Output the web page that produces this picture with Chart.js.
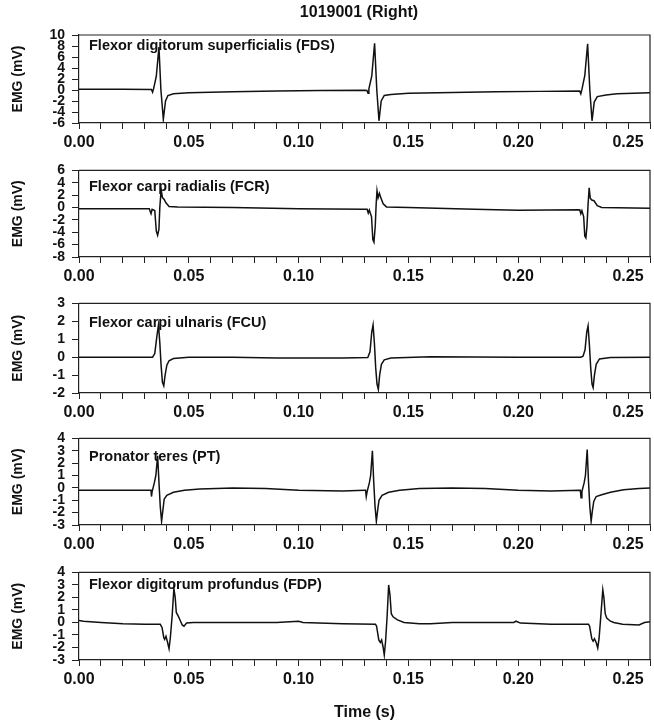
<!DOCTYPE html>
<html>
<head>
<meta charset="utf-8">
<title>1019001 (Right)</title>
<script src="https://cdn.jsdelivr.net/npm/chart.js@4.4.1/dist/chart.umd.min.js"></script>
<style>
  body { margin: 0; background: #fff; }
  #wrap { position: relative; width: 654px; height: 722px; overflow: hidden; }
  #wrap canvas { position: absolute; left: 0; }
</style>
</head>
<body>
<div id="wrap">
  <canvas id="fds"></canvas>
  <canvas id="fcr"></canvas>
  <canvas id="fcu"></canvas>
  <canvas id="pt"></canvas>
  <canvas id="fdp"></canvas>
</div>
<script>
const figTitle = "1019001 (Right)";
const muscleNames = [
  "Flexor digitorum superficialis (FDS)",
  "Flexor carpi radialis (FCR)",
  "Flexor carpi ulnaris (FCU)",
  "Pronator teres (PT)",
  "Flexor digitorum profundus (FDP)"
];
const xTickLabels = ["0.00", "0.05", "0.10", "0.15", "0.20", "0.25"];

// traces: time (s) and EMG (mV)
const fdsT = [0, 0.02, 0.033, 0.0335, 0.034, 0.0352, 0.0364, 0.0373, 0.0384, 0.0394, 0.0405, 0.043, 0.05, 0.07, 0.09, 0.11, 0.13,
  0.1311, 0.1316, 0.132, 0.1333, 0.1346, 0.1356, 0.1366, 0.1376, 0.139, 0.142, 0.15, 0.17, 0.19, 0.21, 0.228,
  0.2285, 0.229, 0.2303, 0.2316, 0.2326, 0.2336, 0.2346, 0.236, 0.24, 0.245, 0.26];
const fdsV = [0.15, 0.12, 0.1, -0.4, 0.3, 2.5, 7.8, 0, -5.3, -2.0, -1.0, -0.7, -0.5, -0.3, -0.2, -0.1, -0.05,
  -0.1, -0.6, 0.2, 2.5, 8.5, 0, -5.6, -2.0, -1.0, -0.8, -0.6, -0.45, -0.3, -0.25, -0.2,
  -0.7, 0.1, 2.6, 8.4, 0, -5.6, -2.2, -1.2, -0.9, -0.7, -0.5];

const fcrT = [0, 0.032, 0.0328, 0.0333, 0.0345, 0.0352, 0.0358, 0.0364, 0.0368, 0.0374, 0.038, 0.0388, 0.0395, 0.041, 0.045, 0.07, 0.1, 0.13,
  0.1312, 0.1317, 0.1322, 0.1332, 0.1338, 0.1343, 0.1349, 0.1353, 0.1357, 0.1362, 0.1368, 0.1374, 0.1385, 0.14, 0.15, 0.18, 0.2, 0.228,
  0.2285, 0.229, 0.2298, 0.2303, 0.2308, 0.2313, 0.2318, 0.2323, 0.2328, 0.2335, 0.2345, 0.236, 0.238, 0.26];
const fcrV = [-0.2, -0.2, -1.0, -0.3, -0.5, -3.8, -4.5, -3.5, 0, 2.9, 1.6, 1.3, 0.8, 0.15, 0.1, 0.0, -0.2, -0.3,
  -0.3, -0.9, -0.4, -1.5, -5.2, -5.6, -3.0, 0.5, 2.7, 1.6, 2.3, 1.6, 0.6, 0.1, 0.0, -0.3, -0.45, -0.35,
  -1.0, -0.5, -1.5, -4.6, -4.9, -3.0, 0.5, 3.2, 1.5, 1.2, 1.1, 0.3, 0.0, -0.1];

const fcuT = [0, 0.0335, 0.0345, 0.0355, 0.0362, 0.0368, 0.0374, 0.038, 0.0386, 0.0392, 0.04, 0.041, 0.043, 0.05, 0.07, 0.09, 0.12,
  0.1315, 0.1325, 0.1333, 0.1339, 0.1345, 0.1351, 0.1357, 0.1363, 0.1369, 0.1377, 0.139, 0.142, 0.16, 0.2, 0.2285,
  0.2295, 0.2304, 0.2312, 0.2318, 0.2324, 0.233, 0.2336, 0.2341, 0.2347, 0.2355, 0.237, 0.242, 0.26];
const fcuV = [0, 0, 0.2, 1.2, 1.8, 0.8, -0.5, -1.4, -1.6, -1.0, -0.45, -0.2, -0.08, 0, 0, -0.05, -0.05,
  -0.02, 0.3, 1.4, 1.8, 0.8, -0.6, -1.5, -1.8, -1.0, -0.4, -0.15, -0.05, 0.02, 0, 0,
  0.05, 0.4, 1.4, 1.75, 0.7, -0.6, -1.5, -1.7, -1.0, -0.4, -0.1, -0.02, 0];

const ptT = [0, 0.0328, 0.033, 0.0333, 0.0343, 0.035, 0.0358, 0.0364, 0.037, 0.0376, 0.0382, 0.0388, 0.04, 0.043, 0.048, 0.055, 0.07, 0.085, 0.1, 0.12, 0.13,
  0.1305, 0.1308, 0.1312, 0.1322, 0.1328, 0.1336, 0.1342, 0.1348, 0.1354, 0.136, 0.1366, 0.138, 0.141, 0.146, 0.155, 0.17, 0.185, 0.2, 0.215, 0.228,
  0.2283, 0.2286, 0.229, 0.23, 0.2306, 0.2314, 0.232, 0.2326, 0.2332, 0.2338, 0.2344, 0.2355, 0.238, 0.242, 0.248, 0.255, 0.26];
const ptV = [-0.2, -0.2, -0.7, -0.3, 0.4, 1.0, 2.6, 0.5, -1.5, -2.7, -1.8, -0.9, -0.6, -0.35, -0.2, -0.1, 0.0, -0.05, -0.2, -0.25, -0.2,
  -0.2, -0.7, -0.3, 0.4, 1.0, 3.0, 0.5, -1.5, -2.7, -1.8, -1.0, -0.6, -0.35, -0.2, -0.05, 0.0, -0.05, -0.2, -0.25, -0.2,
  -0.2, -0.8, -0.3, 0.4, 1.0, 3.1, 0.5, -1.5, -2.7, -1.8, -1.1, -0.7, -0.55, -0.35, -0.15, -0.05, 0];

const fdpT = [0, 0.002, 0.01, 0.02, 0.03, 0.037, 0.0378, 0.0386, 0.039, 0.0396, 0.0402, 0.041, 0.0416, 0.0424, 0.0432, 0.0438, 0.0443, 0.0452, 0.046, 0.047, 0.0478, 0.049, 0.052, 0.07, 0.09, 0.1, 0.102, 0.12, 0.135,
  0.1355, 0.1365, 0.1372, 0.1378, 0.1385, 0.139, 0.1396, 0.1403, 0.141, 0.1416, 0.1422, 0.143, 0.145, 0.148, 0.155, 0.16, 0.17, 0.198, 0.199, 0.201, 0.215, 0.232,
  0.2325, 0.2335, 0.2341, 0.2347, 0.2355, 0.2362, 0.2368, 0.2376, 0.2385, 0.239, 0.2396, 0.2403, 0.242, 0.2435, 0.2475, 0.255, 0.2575, 0.26];
const fdpV = [0.15, 0.1, 0.0, -0.1, -0.15, -0.15, -0.4, -1.2, -1.35, -1.1, -1.5, -2.1, -1.2, 0.5, 2.7, 2.0, 0.8, 0.5, 0.2, -0.2, -0.3, -0.05, 0.0, 0.0, 0.0, 0.1, 0.0, -0.1, -0.15,
  -0.3, -1.4, -1.6, -1.4, -2.0, -2.6, -1.5, 0.5, 3.0, 2.2, 0.7, 0.45, 0.2, 0.0, -0.1, -0.1, 0.0, 0.0, 0.1, -0.05, -0.15, -0.15,
  -0.3, -1.3, -1.5, -1.3, -1.6, -2.05, -1.3, 0.5, 2.6, 2.0, 0.7, 0.35, 0.1, 0.0, -0.15, -0.2, 0.0, 0.05];

const yMins = [-6, -8, -2, -3, -3];
const yMaxs = [10, 6, 3, 4, 4];
const ySteps = [2, 2, 1, 1, 1];

const traces = [[fdsT, fdsV], [fcrT, fcrV], [fcuT, fcuV], [ptT, ptV], [fdpT, fdpV]];
const ids = ["fds", "fcr", "fcu", "pt", "fdp"];

// plot box of each panel (px in the page)
const boxTop = [35, 169, 302, 437, 571];
const boxBottom = [123, 257, 393, 525, 660];
const labelDy = [11, 17, 20, 19, 13];
const FONT = "'Liberation Sans', Arial, sans-serif";

// frame + in-panel texts
const panelDecor = {
  id: "panelDecor",
  afterDraw(chart, args, opts) {
    const { ctx, chartArea: a } = chart;
    ctx.save();
    ctx.strokeStyle = "#222";
    ctx.lineWidth = 1.2;
    ctx.beginPath();
    ctx.moveTo(a.left, a.top);
    ctx.lineTo(a.right, a.top);
    ctx.lineTo(a.right, a.bottom);
    ctx.stroke();
    ctx.fillStyle = "#111";
    ctx.textBaseline = "middle";
    ctx.font = "bold 14.5px " + FONT;
    ctx.fillText(opts.label, a.left + 10, a.top + opts.dy);
    if (opts.title) {
      ctx.textAlign = "center";
      ctx.font = "bold 16px " + FONT;
      ctx.fillText(opts.title, 359, 13);
    }
    ctx.restore();
  }
};

ids.forEach((id, i) => {
  const last = i === ids.length - 1;
  const canvas = document.getElementById(id);
  const cTop = i === 0 ? 0 : boxTop[i] - 14;
  const cBottom = last ? 722 : boxBottom[i] + 34;
  canvas.width = 654;
  canvas.height = cBottom - cTop;
  canvas.style.top = cTop + "px";

  const [ts, vs] = traces[i];
  const points = ts.map((t, k) => ({ x: t, y: vs[k] }));

  new Chart(canvas, {
    type: "line",
    data: {
      datasets: [{
        data: points,
        borderColor: "#111",
        borderWidth: 1.5,
        pointRadius: 0,
        tension: 0,
        fill: false
      }]
    },
    options: {
      responsive: false,
      animation: false,
      layout: { padding: { top: boxTop[i] - cTop, right: 2, left: 0, bottom: 0 } },
      plugins: {
        legend: { display: false },
        tooltip: { enabled: false },
        panelDecor: { label: muscleNames[i], dy: labelDy[i], title: i === 0 ? figTitle : null }
      },
      scales: {
        x: {
          type: "linear",
          min: 0,
          max: 0.26,
          afterFit: s => { s.height = cBottom - boxBottom[i]; },
          border: { color: "#222", width: 1.2 },
          grid: { drawOnChartArea: false, drawTicks: true, tickLength: 6, color: "#222" },
          ticks: {
            stepSize: 0.01,
            autoSkip: false,
            maxRotation: 0,
            padding: 4,
            color: "#111",
            font: { family: FONT, size: 16, weight: "bold" },
            callback: v => {
              const k = Math.round(v * 100);
              return k % 5 === 0 ? xTickLabels[k / 5] : "";
            }
          },
          title: {
            display: last,
            text: "Time (s)",
            color: "#111",
            font: { family: FONT, size: 16, weight: "bold" },
            padding: { top: 0, bottom: 0 }
          }
        },
        y: {
          min: yMins[i],
          max: yMaxs[i],
          afterFit: s => { s.width = 79; },
          border: { color: "#222", width: 1.2 },
          grid: { drawOnChartArea: false, drawTicks: true, tickLength: 7, color: "#222" },
          ticks: {
            stepSize: ySteps[i],
            autoSkip: false,
            padding: 7,
            color: "#111",
            font: { family: FONT, size: 14, weight: "bold" }
          },
          title: {
            display: true,
            text: "EMG (mV)",
            color: "#111",
            font: { family: FONT, size: 14, weight: "bold" },
            padding: { top: 10, bottom: 0 }
          }
        }
      }
    },
    plugins: [panelDecor]
  });
});
</script>
</body>
</html>
